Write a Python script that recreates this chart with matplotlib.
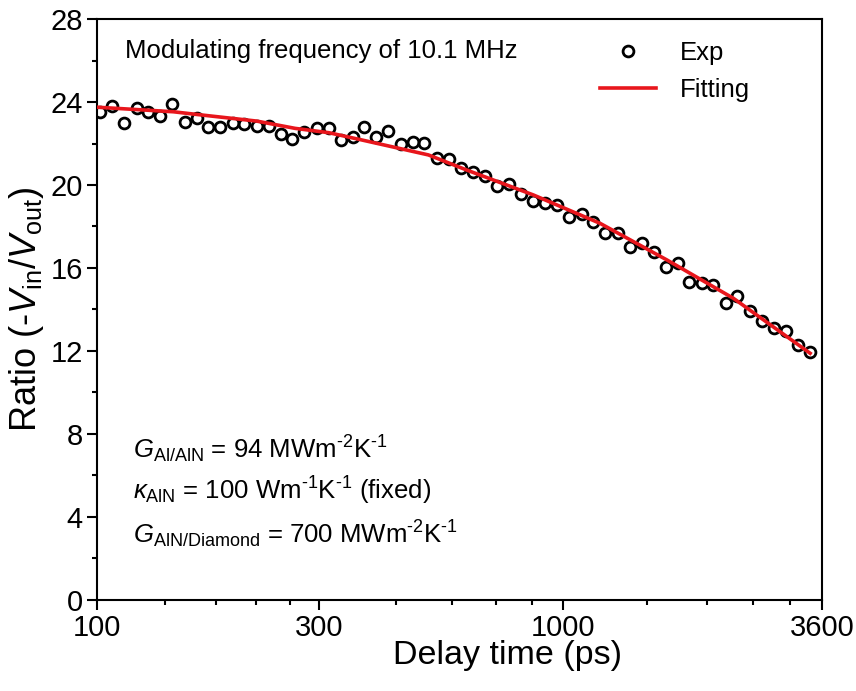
import matplotlib
matplotlib.use("Agg")
import matplotlib.pyplot as plt
from matplotlib.lines import Line2D
from matplotlib.ticker import FixedLocator, NullFormatter

plt.rcParams['font.family'] = ['Liberation Sans', 'DejaVu Sans']
plt.rcParams['mathtext.fontset'] = 'custom'
plt.rcParams['mathtext.rm'] = 'Liberation Sans'
plt.rcParams['mathtext.it'] = 'Liberation Sans:italic'
plt.rcParams['mathtext.bf'] = 'Liberation Sans:bold'

# Experimental data (delay time in ps, ratio)
exp_time = [101.6, 108.0, 114.6, 121.9, 129.0, 136.7, 145.3, 154.7, 163.9, 173.6,
            183.9, 195.8, 207.4, 220.5, 234.3, 248.4, 263.0, 279.1, 296.8, 314.9,
            334.1, 354.4, 375.3, 397.8, 422.7, 449.4, 476.8, 505.0, 538.3, 570.6,
            605.5, 641.6, 681.7, 722.3, 767.6, 813.3, 863.0, 917.1, 974.6, 1034,
            1100, 1164, 1234, 1312, 1392, 1479, 1572, 1668, 1768, 1872,
            1990, 2107, 2240, 2372, 2526, 2676, 2844, 3018, 3207, 3399]
exp_ratio = [23.50, 23.81, 22.97, 23.73, 23.50, 23.34, 23.89, 23.05, 23.24, 22.81,
             22.81, 23.00, 22.93, 22.84, 22.84, 22.46, 22.20, 22.57, 22.73, 22.73,
             22.17, 22.33, 22.81, 22.30, 22.60, 21.98, 22.09, 22.01, 21.32, 21.27,
             20.80, 20.64, 20.43, 19.95, 20.03, 19.57, 19.24, 19.15, 19.04, 18.47,
             18.60, 18.23, 17.67, 17.70, 17.03, 17.22, 16.79, 16.06, 16.23, 15.34,
             15.26, 15.18, 14.33, 14.65, 13.93, 13.46, 13.09, 12.98, 12.29, 11.94]

# Fitting curve
fit_time = [100, 146, 162.5, 220.5, 266.5, 315, 370.7, 515.1, 622.8, 865.6,
            1204, 1674, 2326, 3399]
fit_ratio = [23.75, 23.53, 23.41, 23.08, 22.73, 22.52, 22.17, 21.45, 20.72, 19.52,
             18.15, 16.39, 14.54, 11.89]

x_major = [100, 300, 1000, 3600]
x_minor = [140, 180, 220, 260, 440, 580, 720, 860, 1520, 2040, 2560, 3080]
y_major = [0, 4, 8, 12, 16, 20, 24, 28]
y_minor = [2, 6, 10, 14, 18, 22, 26]

red = '#e8161c'

fig = plt.figure(figsize=(8.56, 6.91), dpi=100)
ax = fig.add_axes([0.113, 0.1317, 0.847, 0.8408])

ax.plot(exp_time, exp_ratio, ls='none', marker='o', ms=7.8, mfc='none',
        mec='black', mew=2.0, zorder=2)
ax.plot(fit_time, fit_ratio, color=red, lw=2.6, zorder=3)

ax.set_xscale('log')
ax.set_xlim(100, 3600)
ax.set_ylim(0, 28)
ax.xaxis.set_major_locator(FixedLocator(x_major))
ax.xaxis.set_minor_locator(FixedLocator(x_minor))
ax.xaxis.set_minor_formatter(NullFormatter())
ax.set_xticklabels([str(v) for v in x_major])
ax.yaxis.set_major_locator(FixedLocator(y_major))
ax.yaxis.set_minor_locator(FixedLocator(y_minor))
ax.set_yticklabels([str(v) for v in y_major])

for s in ax.spines.values():
    s.set_linewidth(1.5)
ax.tick_params(which='major', direction='out', length=7, width=1.5,
               labelsize=21, pad=3)
ax.tick_params(which='minor', direction='out', length=3.8, width=1.5)

ax.text(0.567, -0.095, 'Delay time (ps)', transform=ax.transAxes,
        ha='center', va='center', fontsize=24.5)
ax.text(-0.097, 0.5, r'Ratio (-$V_{\mathrm{in}}$/$V_{\mathrm{out}}$)',
        transform=ax.transAxes, ha='center', va='center', rotation=90,
        fontsize=26)

ax.text(0.039, 0.9324, 'Modulating frequency of 10.1 MHz', transform=ax.transAxes,
        ha='left', va='baseline', fontsize=18.5)
ax.text(0.050, 0.2444, r'$G_{\mathrm{Al/AlN}}$ = 94 MWm$^{\text{-2}}$K$^{\text{-1}}$',
        transform=ax.transAxes, ha='left', va='baseline', fontsize=18.5)
ax.text(0.050, 0.1721, r'$\kappa_{\mathrm{AlN}}$ = 100 Wm$^{\text{-1}}$K$^{\text{-1}}$ (fixed)',
        transform=ax.transAxes, ha='left', va='baseline', fontsize=18.5)
ax.text(0.050, 0.0981, r'$G_{\mathrm{AlN/Diamond}}$ = 700 MWm$^{\text{-2}}$K$^{\text{-1}}$',
        transform=ax.transAxes, ha='left', va='baseline', fontsize=18.5)

handles = [Line2D([], [], ls='none', marker='o', ms=7.8, mfc='none', mec='black', mew=2.0),
           Line2D([], [], color=red, lw=2.6)]
ax.legend(handles, ['Exp', 'Fitting'], loc='upper left',
          bbox_to_anchor=(0.694, 0.962), frameon=False, fontsize=18.5,
          handlelength=2.2, handletextpad=0.9, labelspacing=0.5,
          borderpad=0, borderaxespad=0)

fig.savefig('out.png', dpi=100)
